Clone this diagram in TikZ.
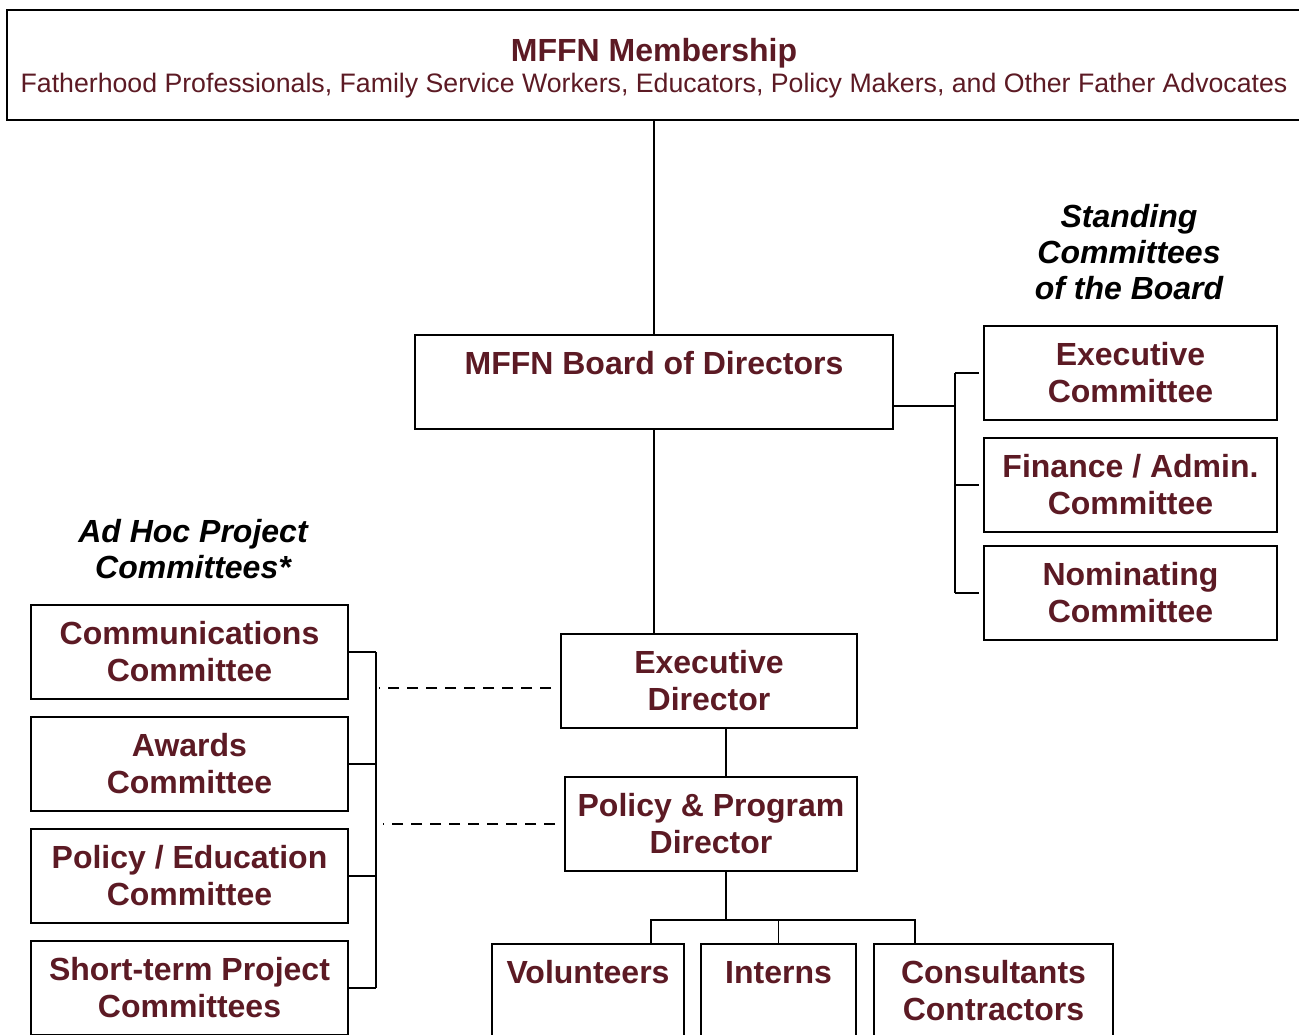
\documentclass[tikz,border=0pt]{standalone}
\usepackage{fontspec}
\setmainfont{Liberation Sans}
\usepackage{tikz}
\definecolor{mffn}{RGB}{92,26,36}

\begin{document}
\begin{tikzpicture}[x=1pt,y=-1pt,
		box/.style={draw,line width=1.8pt,inner sep=0pt,align=center,text=mffn,font=\bfseries\fontsize{32}{37}\selectfont},
		lbl/.style={align=center,font=\bfseries\itshape\fontsize{32}{36}\selectfont},
		link/.style={line width=1.8pt},
		dlink/.style={line width=2pt,dash pattern=on 11pt off 8pt}]
			\useasboundingbox (0,0) rectangle (1299,1034);
			\clip (0,0) rectangle (1299,1034);
			\node[box,minimum width=1294,minimum height=110,font=\fontsize{26.7}{31}\selectfont] (member) at (654,65) {\rule{0pt}{29pt}{\bfseries\fontsize{32}{31}\selectfont MFFN Membership}\\Fatherhood Professionals, Family Service Workers, Educators, Policy Makers, and Other Father Advocates};
			\node[box,minimum width=478,minimum height=94] (board) at (654,382) {MFFN Board of Directors\\\phantom{C}};
			\node[box,minimum width=296,minimum height=94] (exdir) at (709,681) {Executive\\Director};
			\node[box,minimum width=292,minimum height=94] (ppdir) at (711,824) {Policy \& Program\\Director};
			\node[box,minimum width=192,minimum height=94] (vol) at (588,991) {Volunteers\\\phantom{C}};
			\node[box,minimum width=155,minimum height=94] (intern) at (778.5,991) {Interns\\\phantom{C}};
			\node[box,minimum width=239,minimum height=94] (consult) at (993.5,991) {Consultants\\Contractors};
			\node[lbl] (standing) at (1129,252) {Standing\\Committees\\of the Board};
			\node[box,minimum width=293,minimum height=94] (execcom) at (1130.5,373) {Executive\\Committee};
			\node[box,minimum width=293,minimum height=94] (fincom) at (1130.5,485) {Finance / Admin.\\Committee};
			\node[box,minimum width=293,minimum height=94] (nomcom) at (1130.5,593) {Nominating\\Committee};
			\node[lbl] (adhoc) at (193,549) {Ad Hoc Project\\Committees*};
			\node[box,minimum width=317,minimum height=94] (comm) at (189.5,652) {Communications\\Committee};
			\node[box,minimum width=317,minimum height=94] (awards) at (189.5,764) {Awards\\Committee};
			\node[box,minimum width=317,minimum height=94] (poledu) at (189.5,876) {Policy / Education\\Committee};
			\node[box,minimum width=317,minimum height=94] (shortterm) at (189.5,988) {Short-term Project\\Committees};
			\coordinate (edtap) at ([xshift=17pt]exdir.south);
			\coordinate (pptap) at ([xshift=15pt]ppdir.south);
			\coordinate (fork) at ([yshift=-48pt]pptap);
			\coordinate (voltap) at ([xshift=63pt]vol.north);
			\coordinate (contap) at ([xshift=-78.5pt]consult.north);
			\coordinate (rbus) at ([xshift=61pt,yshift=-24pt]board.east);
			\coordinate (lbus) at ([xshift=27pt]comm.east);
			\coordinate (d1) at ([xshift=-9pt,yshift=-7pt]exdir.west);
			\coordinate (d2) at ([xshift=-9pt]ppdir.west);
			\draw[link] (member.south) -- (board.north);
			\draw[link] (board.south) -- (board.south |- exdir.north);
			\draw[link] (edtap) -- (edtap |- ppdir.north);
			\draw[link] (pptap) -- (fork);
			\draw[link] (voltap) -- (voltap |- fork) -- (contap |- fork) -- (contap);
			\draw[link] (intern.north) -- (intern.north |- fork);
			\draw[link] ([yshift=-24pt]board.east) -- (rbus);
			\draw[link] (rbus |- execcom.west) -- (rbus |- nomcom.west);
			\foreach \c in {execcom,fincom,nomcom}
				\draw[link] (rbus |- \c.west) -- ([xshift=-4pt]\c.west);
			\draw[link] (lbus |- comm.east) -- (lbus |- shortterm.east);
			\foreach \c in {comm,awards,poledu,shortterm}
				\draw[link] (\c.east) -- (lbus |- \c.east);
			\draw[dlink,shorten >=3pt] (d1) -- (d1 -| lbus);
			\draw[dlink,shorten >=7pt] (d2) -- (d2 -| lbus);
		\end{tikzpicture}
\end{document}
